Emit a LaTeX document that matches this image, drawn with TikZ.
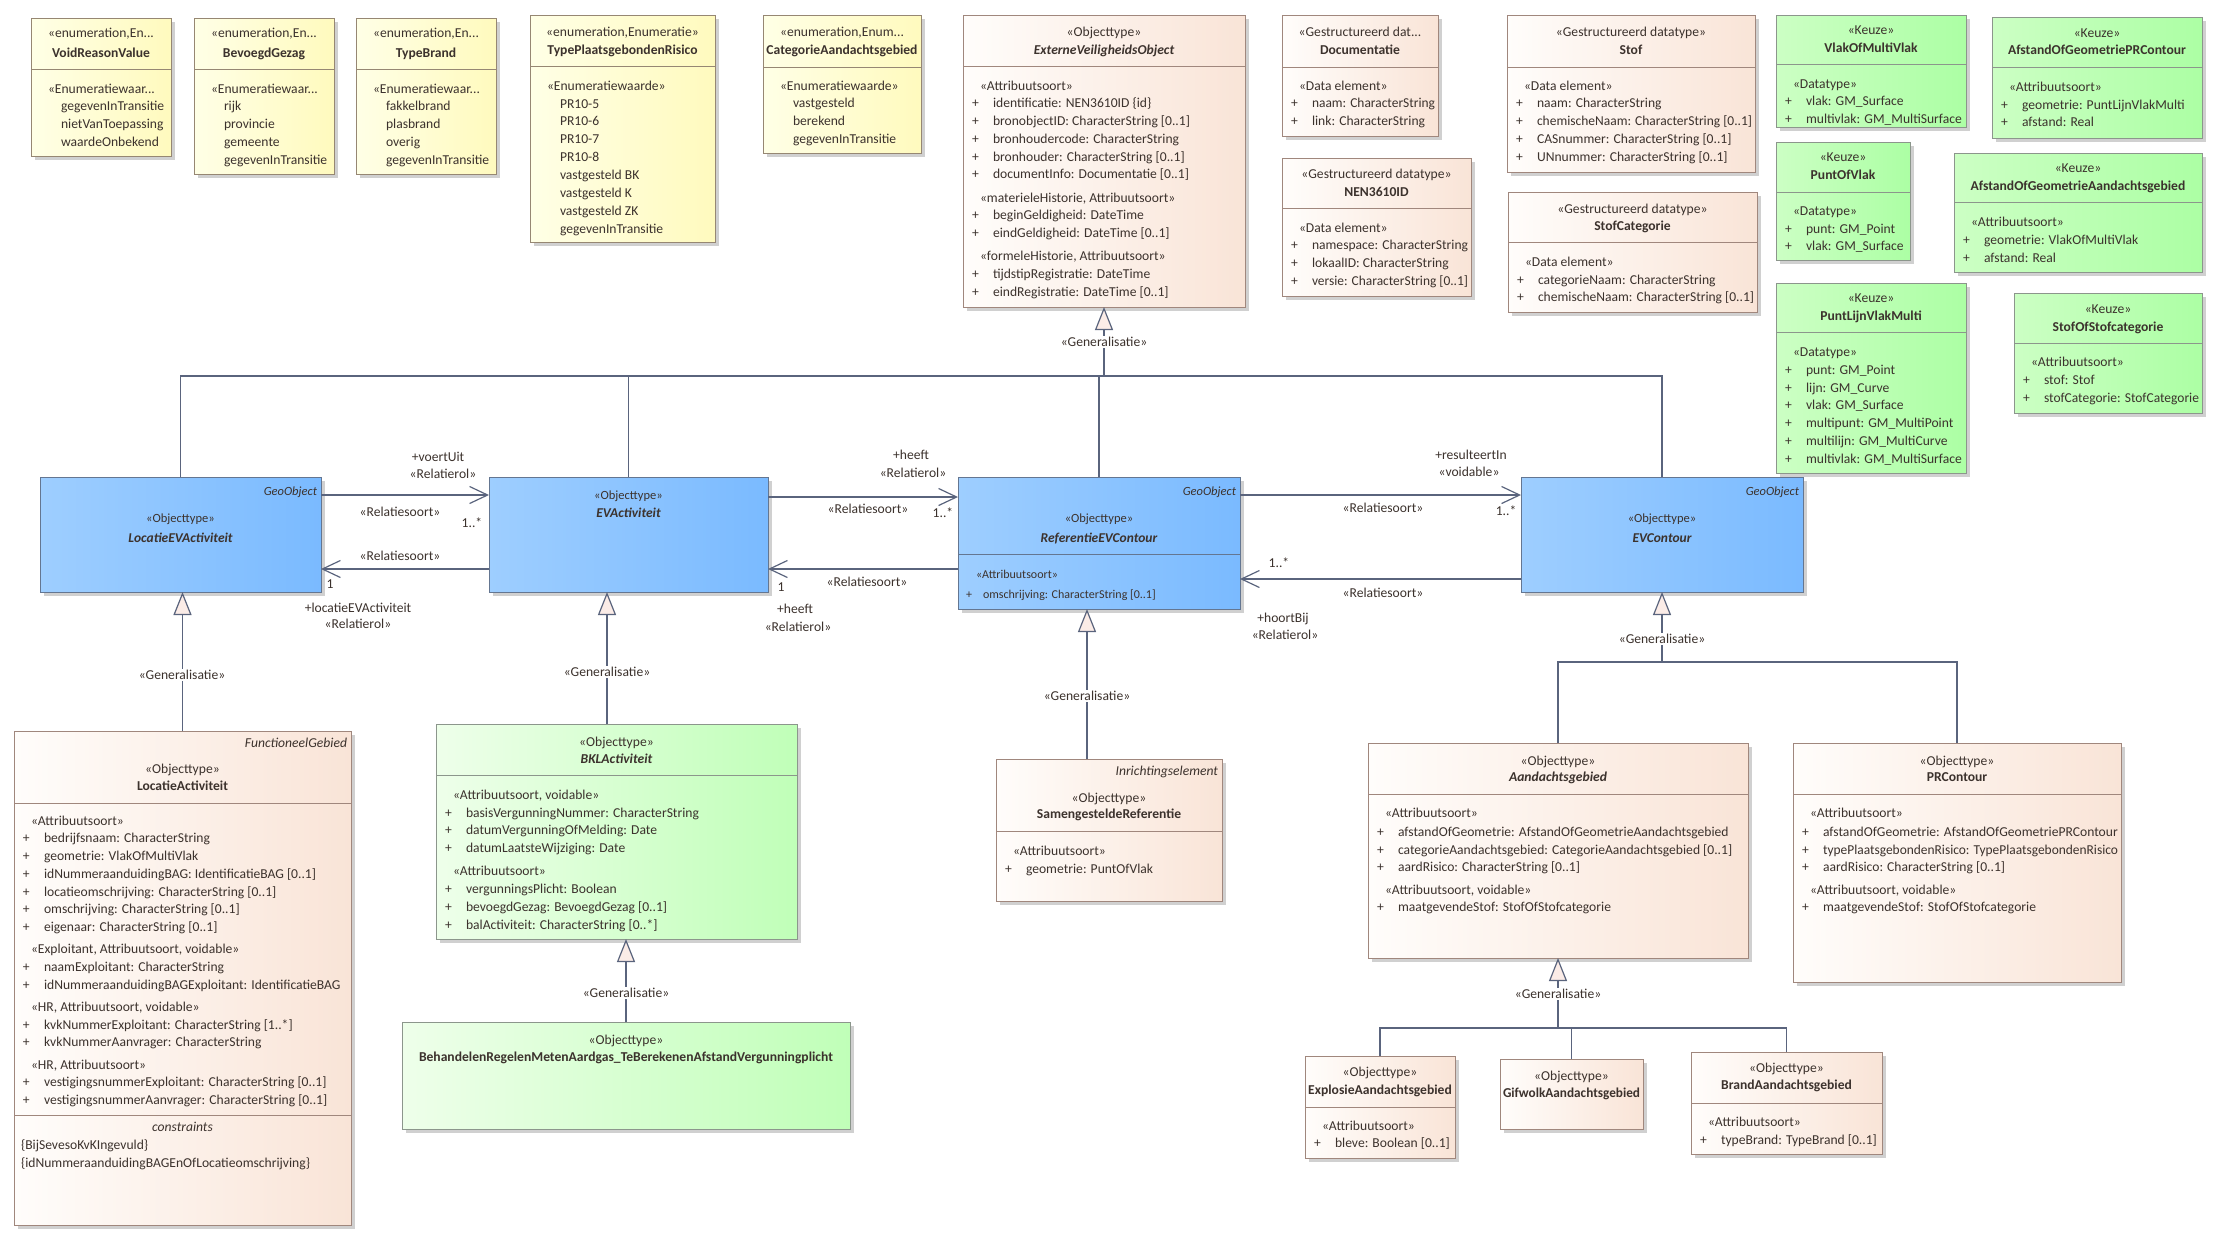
\documentclass[tikz,border=0pt]{standalone}
\usepackage{fontspec}
\setmainfont{Carlito}
\usepackage{graphicx}
\usetikzlibrary{arrows.meta,shadows,calc}
\definecolor{tx}{RGB}{60,50,45}
\definecolor{ln}{RGB}{90,100,125}
\definecolor{trif}{RGB}{251,236,231}
\definecolor{enumL}{RGB}{255,255,230}\definecolor{enumR}{RGB}{255,250,190}\definecolor{enumB}{RGB}{150,135,115}
\definecolor{beigeL}{RGB}{255,253,251}\definecolor{beigeR}{RGB}{249,228,215}\definecolor{beigeB}{RGB}{160,135,125}
\definecolor{greenL}{RGB}{238,255,234}\definecolor{greenR}{RGB}{192,255,184}\definecolor{greenB}{RGB}{140,150,140}
\definecolor{keuzeL}{RGB}{204,255,196}\definecolor{keuzeR}{RGB}{172,255,164}\definecolor{keuzeB}{RGB}{140,150,140}
\definecolor{blueL}{RGB}{158,206,255}\definecolor{blueR}{RGB}{122,186,255}\definecolor{blueB}{RGB}{100,118,145}
\newcounter{tn}
\newsavebox\fb
\newcommand\fitw[2]{\sbox\fb{#2}\ifdim\wd\fb>#1\relax\resizebox{#1}{\ht\fb}{\usebox\fb}\else\usebox\fb\fi}
\newcommand\ubox[6]{%
  \node[#6, anchor=north west, minimum width={(#4-#2)*1pt}, minimum height={(#5-#3)*1pt}] (#1) at (#2,#3) {};%
  \def\bx{#2}\def\bxr{#4}\def\bcol{#6B}%
  \pgfmathsetmacro\bcx{(#2+#4)/2}%
  \pgfmathsetlengthmacro\bw{(#4-#2-6)*1pt}%
  \pgfmathsetlengthmacro\sw{(#4-#2-20)*1pt}%
  \pgfmathsetlengthmacro\aw{(#4-#2-33)*1pt}}
\newcommand\dvl[1]{\draw[draw=\bcol, line width=1pt] (\bx,#1) -- (\bxr,#1);}
\newcommand\hdl[2]{\node[txt,anchor=base] at (\bcx,#1+4.5) {\fitw{\bw}{#2}};}
\newcommand\nm[2]{\node[txt,anchor=base] at (\bcx,#1+4.5) {\bfseries\fitw{\bw}{#2}};}
\newcommand\nmi[2]{\node[txt,anchor=base] at (\bcx,#1+4.5) {\bfseries\itshape\fitw{\bw}{#2}};}
\newcommand\stl[2]{\node[txt,anchor=base west] at (\bx+17,#1+4.5) {\fitw{\sw}{#2}};}
\newcommand\atr[2]{\node[txt,anchor=base west] at (\bx+9,#1+4.5) {+};\node[txt,anchor=base west] at (\bx+30,#1+4.5) {\fitw{\aw}{#2}};}
\newcommand\ev[2]{\node[txt,anchor=base west] at (\bx+30,#1+4.5) {\fitw{\aw}{#2}};}
\newcommand\trl[2]{\node[txt,anchor=base east] at (\bxr-4,#1+4.5) {\itshape #2};}
\newcommand\bst[2]{\node[txt,anchor=base,font=\fontsize{12.5}{14}\selectfont] at (\bcx,#1+4.5) {#2};}
\newcommand\bnm[2]{\node[txt,anchor=base,font=\fontsize{13.5}{15}\selectfont] at (\bcx,#1+4.5) {\bfseries\itshape #2};}
\newcommand\geo[1]{\node[txt,anchor=base east,font=\fontsize{12.5}{14}\selectfont] at (\bxr-4,#1+4.5) {\itshape GeoObject};}
\begin{document}
\begin{tikzpicture}[x=1pt,y=-1pt,
  txt/.code={\stepcounter{tn}\pgfkeysalso{name=tn\arabic{tn},inner sep=0pt,outer sep=0pt,text=tx,font=\fontsize{13.6}{16}\selectfont}},
  lbl/.style={txt},
  gl/.style={txt,fill=white,inner sep=1.5pt},
  boxbase/.style={draw, line width=1pt, inner sep=0pt, outer sep=0pt, drop shadow={shadow xshift=4pt, shadow yshift=-4pt, fill=black!30, opacity=0.6}},
  enum/.style={boxbase, draw=enumB, left color=enumL, right color=enumR},
  beige/.style={boxbase, draw=beigeB, left color=beigeL, right color=beigeR},
  green/.style={boxbase, draw=greenB, left color=greenL, right color=greenR},
  keuze/.style={boxbase, draw=keuzeB, left color=keuzeL, right color=keuzeR},
  blue/.style={boxbase, draw=blueB, left color=blueL, right color=blueR},
  line/.style={draw=ln, line width=1.2pt},
  gen/.style={line, -{Triangle[length=23pt,width=18pt,fill=trif]}},
  assoc/.style={line, -{Straight Barb[length=18pt,width=17pt]}}]
\fill[white] (0,0) rectangle (2222,1251);
\useasboundingbox (0,0) rectangle (2222,1251);

% ---------- enumerations ----------
\ubox{vrv}{31}{18}{171}{156}{enum}\dvl{69}
\hdl{33}{«enumeration,En...}\nm{53}{VoidReasonValue}
\stl{89}{«Enumeratiewaar...}\ev{106}{gegevenInTransitie}\ev{124}{nietVanToepassing}\ev{142}{waardeOnbekend}

\ubox{bg}{194}{18}{334}{174}{enum}\dvl{69}
\hdl{33}{«enumeration,En...}\nm{53}{BevoegdGezag}
\stl{89}{«Enumeratiewaar...}\ev{106}{rijk}\ev{124}{provincie}\ev{142}{gemeente}\ev{160}{gegevenInTransitie}

\ubox{tb}{356}{18}{496}{174}{enum}\dvl{69}
\hdl{33}{«enumeration,En...}\nm{53}{TypeBrand}
\stl{89}{«Enumeratiewaar...}\ev{106}{fakkelbrand}\ev{124}{plasbrand}\ev{142}{overig}\ev{160}{gegevenInTransitie}

\ubox{tpr}{530}{15}{715}{242}{enum}\dvl{66}
\hdl{32}{«enumeration,Enumeratie»}\nm{50}{TypePlaatsgebondenRisico}
\stl{86}{«Enumeratiewaarde»}\ev{104}{PR10-5}\ev{121}{PR10-6}\ev{139}{PR10-7}\ev{157}{PR10-8}
\ev{175}{vastgesteld BK}\ev{193}{vastgesteld K}\ev{211}{vastgesteld ZK}\ev{229}{gegevenInTransitie}

\ubox{cag}{763}{15}{921}{153}{enum}\dvl{67}
\hdl{32}{«enumeration,Enum...}\nm{50}{CategorieAandachtsgebied}
\stl{86}{«Enumeratiewaarde»}\ev{103}{vastgesteld}\ev{121}{berekend}\ev{139}{gegevenInTransitie}

% ---------- ExterneVeiligheidsObject ----------
\ubox{evo}{963}{15}{1245}{307}{beige}\dvl{66}
\hdl{32}{«Objecttype»}\nmi{50}{ExterneVeiligheidsObject}
\stl{86}{«Attribuutsoort»}
\atr{103}{identificatie: NEN3610ID \{id\}}
\atr{121}{bronobjectID: CharacterString [0..1]}
\atr{139}{bronhoudercode: CharacterString}
\atr{157}{bronhouder: CharacterString [0..1]}
\atr{174}{documentInfo: Documentatie [0..1]}
\stl{198}{«materieleHistorie, Attribuutsoort»}
\atr{215}{beginGeldigheid: DateTime}
\atr{233}{eindGeldigheid: DateTime [0..1]}
\stl{256}{«formeleHistorie, Attribuutsoort»}
\atr{274}{tijdstipRegistratie: DateTime}
\atr{292}{eindRegistratie: DateTime [0..1]}

% ---------- data types ----------
\ubox{doc}{1282}{15}{1438}{136}{beige}\dvl{67}
\hdl{32}{«Gestructureerd dat...}\nm{50}{Documentatie}
\stl{86}{«Data element»}\atr{103}{naam: CharacterString}\atr{121}{link: CharacterString}

\ubox{nen}{1282}{158}{1471}{296}{beige}\dvl{208}
\hdl{174}{«Gestructureerd datatype»}\nm{192}{NEN3610ID}
\stl{228}{«Data element»}\atr{245}{namespace: CharacterString}\atr{263}{lokaalID: CharacterString}\atr{281}{versie: CharacterString [0..1]}

\ubox{stof}{1507}{15}{1755}{172}{beige}\dvl{67}
\hdl{32}{«Gestructureerd datatype»}\nm{50}{Stof}
\stl{86}{«Data element»}\atr{103}{naam: CharacterString}\atr{121}{chemischeNaam: CharacterString [0..1]}
\atr{139}{CASnummer: CharacterString [0..1]}\atr{157}{UNnummer: CharacterString [0..1]}

\ubox{stc}{1508}{192}{1757}{312}{beige}\dvl{242}
\hdl{209}{«Gestructureerd datatype»}\nm{226}{StofCategorie}
\stl{262}{«Data element»}\atr{280}{categorieNaam: CharacterString}\atr{297}{chemischeNaam: CharacterString [0..1]}

% ---------- Keuze ----------
\ubox{vmv}{1776}{15}{1966}{127}{keuze}\dvl{64}
\hdl{30}{«Keuze»}\nm{48}{VlakOfMultiVlak}
\stl{84}{«Datatype»}\atr{101}{vlak: GM\_Surface}\atr{119}{multivlak: GM\_MultiSurface}

\ubox{agpr}{1992}{17}{2202}{138}{keuze}\dvl{67}
\hdl{33}{«Keuze»}\nm{50}{AfstandOfGeometriePRContour}
\stl{87}{«Attribuutsoort»}\atr{105}{geometrie: PuntLijnVlakMulti}\atr{122}{afstand: Real}

\ubox{pov}{1776}{142}{1910}{260}{keuze}\dvl{192}
\hdl{157}{«Keuze»}\nm{175}{PuntOfVlak}
\stl{211}{«Datatype»}\atr{229}{punt: GM\_Point}\atr{246}{vlak: GM\_Surface}

\ubox{agag}{1954}{153}{2202}{272}{keuze}\dvl{202}
\hdl{168}{«Keuze»}\nm{186}{AfstandOfGeometrieAandachtsgebied}
\stl{222}{«Attribuutsoort»}\atr{240}{geometrie: VlakOfMultiVlak}\atr{258}{afstand: Real}

\ubox{plvm}{1776}{283}{1966}{473}{keuze}\dvl{332}
\hdl{298}{«Keuze»}\nm{316}{PuntLijnVlakMulti}
\stl{352}{«Datatype»}\atr{370}{punt: GM\_Point}\atr{388}{lijn: GM\_Curve}\atr{405}{vlak: GM\_Surface}
\atr{423}{multipunt: GM\_MultiPoint}\atr{441}{multilijn: GM\_MultiCurve}\atr{459}{multivlak: GM\_MultiSurface}

\ubox{sos}{2014}{293}{2202}{413}{keuze}\dvl{343}
\hdl{309}{«Keuze»}\nm{327}{StofOfStofcategorie}
\stl{362}{«Attribuutsoort»}\atr{380}{stof: Stof}\atr{398}{stofCategorie: StofCategorie}

% ---------- blue row ----------
\ubox{levact}{40}{477}{321}{592}{blue}
\geo{491}\bst{518}{«Objecttype»}\bnm{538}{LocatieEVActiviteit}

\ubox{evact}{489}{477}{768}{592}{blue}
\bst{495}{«Objecttype»}\bnm{513}{EVActiviteit}

\ubox{refevc}{958}{477}{1240}{609}{blue}\dvl{554}
\geo{491}\bst{518}{«Objecttype»}\bnm{538}{ReferentieEVContour}
\node[txt,anchor=base west,font=\fontsize{12}{14}\selectfont] at (976,578.5) {«Attribuutsoort»};
\node[txt,anchor=base west,font=\fontsize{12}{14}\selectfont] at (966,598.5) {+};
\node[txt,anchor=base west,font=\fontsize{12}{14}\selectfont] at (983,598.5) {omschrijving: CharacterString [0..1]};

\ubox{evc}{1521}{477}{1803}{592}{blue}
\geo{491}\bst{518}{«Objecttype»}\bnm{538}{EVContour}

% ---------- LocatieActiviteit ----------
\ubox{la}{14}{731}{351}{1225}{beige}\dvl{803}\dvl{1115}
\trl{743}{FunctioneelGebied}
\hdl{769}{«Objecttype»}\nm{786}{LocatieActiviteit}
\stl{821}{«Attribuutsoort»}
\atr{838}{bedrijfsnaam: CharacterString}
\atr{856}{geometrie: VlakOfMultiVlak}
\atr{874}{idNummeraanduidingBAG: IdentificatieBAG [0..1]}
\atr{892}{locatieomschrijving: CharacterString [0..1]}
\atr{909}{omschrijving: CharacterString [0..1]}
\atr{927}{eigenaar: CharacterString [0..1]}
\stl{949}{«Exploitant, Attribuutsoort, voidable»}
\atr{967}{naamExploitant: CharacterString}
\atr{985}{idNummeraanduidingBAGExploitant: IdentificatieBAG}
\stl{1007}{«HR, Attribuutsoort, voidable»}
\atr{1025}{kvkNummerExploitant: CharacterString [1..*]}
\atr{1042}{kvkNummerAanvrager: CharacterString}
\stl{1065}{«HR, Attribuutsoort»}
\atr{1082}{vestigingsnummerExploitant: CharacterString [0..1]}
\atr{1100}{vestigingsnummerAanvrager: CharacterString [0..1]}
\node[txt,anchor=base] at (\bcx,1131.5) {\itshape constraints};
\node[txt,anchor=base west] at (21,1149.5) {\{BijSevesoKvKIngevuld\}};
\node[txt,anchor=base west] at (21,1167.5) {\{idNummeraanduidingBAGEnOfLocatieomschrijving\}};

% ---------- BKL ----------
\ubox{bkl}{436}{724}{797}{939}{green}\dvl{775}
\hdl{742}{«Objecttype»}\nmi{759}{BKLActiviteit}
\stl{795}{«Attribuutsoort, voidable»}
\atr{813}{basisVergunningNummer: CharacterString}
\atr{830}{datumVergunningOfMelding: Date}
\atr{848}{datumLaatsteWijziging: Date}
\stl{871}{«Attribuutsoort»}
\atr{889}{vergunningsPlicht: Boolean}
\atr{907}{bevoegdGezag: BevoegdGezag [0..1]}
\atr{925}{balActiviteit: CharacterString [0..*]}

\ubox{beh}{402}{1022}{850}{1129}{green}
\hdl{1040}{«Objecttype»}\nm{1057}{BehandelenRegelenMetenAardgas\_TeBerekenenAfstandVergunningplicht}

\ubox{sr}{996}{759}{1222}{901}{beige}\dvl{831}
\trl{771}{Inrichtingselement}
\hdl{798}{«Objecttype»}\nm{814}{SamengesteldeReferentie}
\stl{851}{«Attribuutsoort»}\atr{869}{geometrie: PuntOfVlak}

% ---------- Aandachtsgebied / PRContour ----------
\ubox{aand}{1368}{743}{1748}{958}{beige}\dvl{794}
\hdl{761}{«Objecttype»}\nmi{777}{Aandachtsgebied}
\stl{813}{«Attribuutsoort»}
\atr{832}{afstandOfGeometrie: AfstandOfGeometrieAandachtsgebied}
\atr{850}{categorieAandachtsgebied: CategorieAandachtsgebied [0..1]}
\atr{867}{aardRisico: CharacterString [0..1]}
\stl{890}{«Attribuutsoort, voidable»}
\atr{907}{maatgevendeStof: StofOfStofcategorie}

\ubox{prc}{1793}{743}{2121}{982}{beige}\dvl{794}
\hdl{761}{«Objecttype»}\nm{777}{PRContour}
\stl{813}{«Attribuutsoort»}
\atr{832}{afstandOfGeometrie: AfstandOfGeometriePRContour}
\atr{850}{typePlaatsgebondenRisico: TypePlaatsgebondenRisico}
\atr{867}{aardRisico: CharacterString [0..1]}
\stl{890}{«Attribuutsoort, voidable»}
\atr{907}{maatgevendeStof: StofOfStofcategorie}

\ubox{expl}{1305}{1056}{1455}{1158}{beige}\dvl{1107}
\hdl{1072}{«Objecttype»}\nm{1090}{ExplosieAandachtsgebied}
\stl{1126}{«Attribuutsoort»}\atr{1143}{bleve: Boolean [0..1]}

\ubox{gif}{1500}{1059}{1643}{1129}{beige}
\hdl{1076}{«Objecttype»}\nm{1093}{GifwolkAandachtsgebied}

\ubox{brand}{1691}{1052}{1882}{1154}{beige}\dvl{1103}
\hdl{1068}{«Objecttype»}\nm{1085}{BrandAandachtsgebied}
\stl{1122}{«Attribuutsoort»}\atr{1140}{typeBrand: TypeBrand [0..1]}

% ---------- generalisations ----------
\draw[line] (levact.north) -- ++(0,-101) -| (evc.north);
\draw[line] (evact.north) -- ++(0,-101);
\draw[line] (refevc.north) -- ++(0,-101);
\draw[gen] ($(evo.south)+(0,69)$) -- (evo.south);
\node[gl] (g0) at (1104,342) {«Generalisatie»};

\draw[gen] (la.north) -- (la.north |- levact.south);
\node[gl] (g1) at (182,675) {«Generalisatie»};

\coordinate (g2) at ([xshift=-9.5pt]bkl.north);
\draw[gen] (g2) -- (g2 |- evact.south);
\node[gl] (g2l) at (607,672) {«Generalisatie»};

\coordinate (g3) at ([xshift=-22pt]sr.north);
\draw[gen] (g3) -- (g3 |- refevc.south);
\node[gl] (g3l) at (1087,696) {«Generalisatie»};

\draw[gen] (beh.north) -- (beh.north |- bkl.south);
\node[gl] (g4) at (626,993) {«Generalisatie»};

\draw[line] (aand.north) -- ++(0,-81) -| (prc.north);
\draw[gen] ($(evc.south)+(0,70)$) -- (evc.south);
\node[gl] (g5) at (1662,639) {«Generalisatie»};

\draw[line] (expl.north) -- ++(0,-28) -| (brand.north);
\draw[line] (gif.north) -- ++(0,-31);
\draw[gen] ($(aand.south)+(0,70)$) -- (aand.south);
\node[gl] (g6) at (1558,994) {«Generalisatie»};

% ---------- associations ----------
\coordinate (a1) at ([yshift=39.5pt]levact.east);
\draw[assoc] (a1) -- (a1 -| evact.west);
\coordinate (a2) at ([yshift=-34.5pt]evact.west);
\draw[assoc] (a2) -- (a2 -| levact.east);
\coordinate (a3) at ([yshift=37.5pt]evact.east);
\draw[assoc] (a3) -- (a3 -| refevc.west);
\coordinate (a4) at ([yshift=-34.5pt]evact.east);
\draw[assoc] (a4 -| refevc.west) -- (a4);
\coordinate (a5) at ([yshift=39.5pt]evc.west);
\draw[assoc] (a5 -| refevc.east) -- (a5);
\coordinate (a6) at ([yshift=-44.5pt]evc.west);
\draw[assoc] (a6) -- (a6 -| refevc.east);

\node[lbl] at (438,457) {+voertUit};
\node[lbl] at (443,474) {«Relatierol»};
\node[lbl] at (400,512) {«Relatiesoort»};
\node[lbl] at (472,523) {1..*};
\node[lbl] at (400,556) {«Relatiesoort»};
\node[lbl] at (330,584) {1};
\node[lbl] at (358,608) {+locatieEVActiviteit};
\node[lbl] at (358,624) {«Relatierol»};

\node[lbl] at (911,455) {+heeft};
\node[lbl] at (913,473) {«Relatierol»};
\node[lbl] at (868,509) {«Relatiesoort»};
\node[lbl] at (943,513) {1..*};
\node[lbl] at (781,587) {1};
\node[lbl] at (867,582) {«Relatiesoort»};
\node[lbl] at (795,609) {+heeft};
\node[lbl] at (798,627) {«Relatierol»};

\node[lbl] at (1471,455) {+resulteertIn};
\node[lbl] at (1469,472) {«voidable»};
\node[lbl] at (1383,508) {«Relatiesoort»};
\node[lbl] at (1506,511) {1..*};
\node[lbl] at (1279,563) {1..*};
\node[lbl] at (1383,593) {«Relatiesoort»};
\node[lbl] at (1283,619) {+hoortBij};
\node[lbl] at (1285,635) {«Relatierol»};
\end{tikzpicture}
\end{document}
